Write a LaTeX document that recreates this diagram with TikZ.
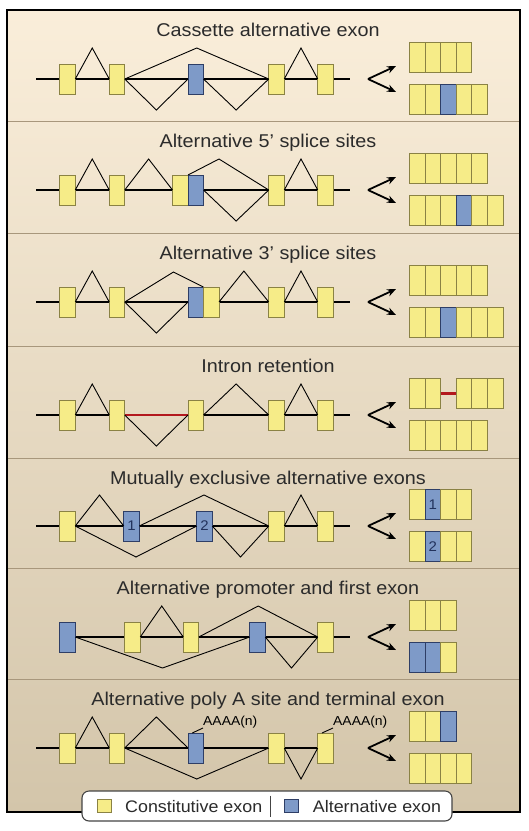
\documentclass[tikz,border=0pt]{standalone}
\usepackage{fontspec}
\setmainfont{Liberation Sans}[FakeStretch=1.07]
\usetikzlibrary{arrows.meta,calc}
\definecolor{exY}{HTML}{F6EC88}
\definecolor{lnY}{HTML}{8A8244}
\definecolor{exB}{HTML}{7E9AC8}
\definecolor{lnB}{HTML}{2E3E66}
\definecolor{bgTop}{HTML}{FAEEDA}
\definecolor{bgBot}{HTML}{D3C5AA}
\definecolor{sepc}{HTML}{A8977C}
\definecolor{txt}{HTML}{2B2B2B}
\definecolor{intr}{HTML}{B3181E}
\definecolor{numc}{HTML}{22325C}
\definecolor{legc}{HTML}{444444}
\newcommand\jn[3]{\draw[spl] (#1) -- ($(#1)!.5!(#2)+(0,#3)$) -- (#2);}
\newcommand\mrow[4]{\foreach \k [count=\i] in {#4} {\node[mbox, fill=ex\k, draw=ln\k] (#1\i) at ({#2+(\i-1)*15.6},#3) {};}}
\newcommand\fork[3]{%
  \coordinate (#1v) at (#2,#3);
  \coordinate (#1t) at (#2+28,#3-13);
  \coordinate (#1u) at (#2+28,#3+13);
  \draw[arr] (#1v) -- (#1t);
  \draw[arr] (#1v) -- (#1u);}
\begin{document}
\begin{tikzpicture}[x=1pt,y=-1pt,
  exon/.style={draw=lnY, fill=exY, line width=0.9pt, minimum width=15.5pt, minimum height=30pt, inner sep=0pt, outer sep=0pt},
  aexon/.style={exon, draw=lnB, fill=exB},
  mbox/.style={line width=0.9pt, minimum width=15.6pt, minimum height=30pt, inner sep=0pt, outer sep=0pt, anchor=north west},
  spl/.style={line width=0.9pt, draw=black},
  bb/.style={line width=1.8pt, draw=black},
  arr/.style={line width=1.8pt, -{Stealth[length=9pt,width=7.5pt]}},
  ttl/.style={anchor=base, font=\fontsize{18.5}{20}\selectfont, text=txt, inner sep=0pt},
  num/.style={font=\fontsize{14}{14}\selectfont, text=numc, inner sep=0pt},
  aaaa/.style={font=\fontsize{13}{13}\selectfont, text=black, inner sep=0pt, anchor=south west},
  ltx/.style={font=\fontsize{16.7}{18}\selectfont, text=txt, inner sep=0pt, anchor=base west},
  lsq/.style={line width=0.9pt, minimum width=14pt, minimum height=13.5pt, inner sep=0pt}
]
\useasboundingbox (0,0) rectangle (529,831);
\fill[top color=bgTop, bottom color=bgBot] (7,10) rectangle (520,812);
\foreach \yy in {121,233,346,458,568,679} \draw[sepc, line width=1pt] (7,\yy) -- (520,\yy);
\draw[line width=2.2pt] (7,10) rectangle (520,812);

% titles
\node[ttl] (t1) at (268,36) {Cassette alternative exon};
\node[ttl] (t2) at (268,147) {Alternative 5’ splice sites};
\node[ttl] (t3) at (268,259) {Alternative 3’ splice sites};
\node[ttl] (t4) at (268,372) {Intron retention};
\node[ttl] (t5) at (268,484) {Mutually exclusive alternative exons};
\node[ttl] (t6) at (268,594) {Alternative promoter and first exon};
\node[ttl] (t7) at (268,705) {Alternative poly A site and terminal exon};

% ---------- panel 1
\coordinate (p1s) at (36,79); \coordinate (p1f) at (350,79);
\draw[bb] (p1s) -- (p1f);
\node[exon] (p1e1) at (67.5,79) {};
\node[exon] (p1e2) at (117,79) {};
\node[aexon] (p1x) at (195.75,79) {};
\node[exon] (p1e3) at (276.5,79) {};
\node[exon] (p1e4) at (325.5,79) {};
\jn{p1e1.east}{p1e2.west}{-31}
\jn{p1e2.east}{p1e3.west}{-31}
\jn{p1e2.east}{p1x.west}{31}
\jn{p1x.east}{p1e3.west}{31}
\jn{p1e3.east}{p1e4.west}{-31}
\fork{p1}{368}{79}
\mrow{p1a}{409.5}{42.5}{Y,Y,Y,Y}
\mrow{p1b}{409.5}{84.5}{Y,Y,B,Y,Y}

% ---------- panel 2
\coordinate (p2s) at (36,190); \coordinate (p2f) at (350,190);
\draw[bb] (p2s) -- (p2f);
\node[exon] (p2e1) at (67.5,190) {};
\node[exon] (p2e2) at (117,190) {};
\node[exon] (p2y) at (180.25,190) {};
\node[aexon] (p2x) at (195.75,190) {};
\node[exon] (p2e3) at (276.5,190) {};
\node[exon] (p2e4) at (325.5,190) {};
\coordinate (p2k) at (219,159);
\jn{p2e1.east}{p2e2.west}{-31}
\jn{p2e2.east}{p2y.west}{-31}
\draw[spl] (p2x.north west) -- (p2k) -- (p2e3.west);
\jn{p2x.east}{p2e3.west}{31}
\jn{p2e3.east}{p2e4.west}{-31}
\fork{p2}{368}{190}
\mrow{p2a}{409.5}{153.5}{Y,Y,Y,Y,Y}
\mrow{p2b}{409.5}{195.5}{Y,Y,Y,B,Y,Y}

% ---------- panel 3
\coordinate (p3s) at (36,302); \coordinate (p3f) at (350,302);
\draw[bb] (p3s) -- (p3f);
\node[exon] (p3e1) at (67.5,302) {};
\node[exon] (p3e2) at (117,302) {};
\node[aexon] (p3x) at (195.75,302) {};
\node[exon] (p3y) at (211.25,302) {};
\node[exon] (p3e3) at (276.5,302) {};
\node[exon] (p3e4) at (325.5,302) {};
\coordinate (p3k) at (173.5,272);
\jn{p3e1.east}{p3e2.west}{-31}
\draw[spl] (p3e2.east) -- (p3k) -- (p3x.north east);
\jn{p3e2.east}{p3x.west}{31}
\jn{p3y.east}{p3e3.west}{-31}
\jn{p3e3.east}{p3e4.west}{-31}
\fork{p3}{368}{302}
\mrow{p3a}{409.5}{265.5}{Y,Y,Y,Y,Y}
\mrow{p3b}{409.5}{307.5}{Y,Y,B,Y,Y,Y}

% ---------- panel 4
\coordinate (p4s) at (36,415); \coordinate (p4f) at (350,415);
\draw[bb] (p4s) -- (p4f);
\node[exon] (p4e1) at (67.5,415) {};
\node[exon] (p4e2) at (117,415) {};
\node[exon] (p4e3) at (195.75,415) {};
\node[exon] (p4e4) at (276.5,415) {};
\node[exon] (p4e5) at (325.5,415) {};
\draw[line width=2.8pt, intr] (p4e2.east) -- (p4e3.west);
\jn{p4e1.east}{p4e2.west}{-31}
\jn{p4e2.east}{p4e3.west}{31}
\jn{p4e3.east}{p4e4.west}{-31}
\jn{p4e4.east}{p4e5.west}{-31}
\fork{p4}{368}{415}
\mrow{p4a}{409.5}{378.5}{Y,Y}
\mrow{p4c}{456.3}{378.5}{Y,Y,Y}
\draw[line width=2.8pt, intr] (p4a2.east) -- (p4c1.west);
\mrow{p4b}{409.5}{420.5}{Y,Y,Y,Y,Y}

% ---------- panel 5
\coordinate (p5s) at (36,526); \coordinate (p5f) at (350,526);
\draw[bb] (p5s) -- (p5f);
\node[exon] (p5e1) at (67.5,526) {};
\node[aexon] (p5x1) at (131.5,526) {};
\node[aexon] (p5x2) at (204.5,526) {};
\node[exon] (p5e3) at (276.5,526) {};
\node[exon] (p5e4) at (325.5,526) {};
\node[num] (p5n1) at (p5x1) {1};
\node[num] (p5n2) at (p5x2) {2};
\jn{p5e1.east}{p5x1.west}{-31}
\jn{p5x1.east}{p5e3.west}{-31}
\jn{p5e1.east}{p5x2.west}{31}
\jn{p5x2.east}{p5e3.west}{31}
\jn{p5e3.east}{p5e4.west}{-31}
\fork{p5}{368}{526}
\mrow{p5a}{409.5}{489.5}{Y,B,Y,Y}
\mrow{p5b}{409.5}{531.5}{Y,B,Y,Y}
\node[num] (p5m1) at (p5a2) {1};
\node[num] (p5m2) at (p5b2) {2};

% ---------- panel 6
\coordinate (p6s) at (67.5,637); \coordinate (p6f) at (350,637);
\draw[bb] (p6s) -- (p6f);
\node[aexon] (p6a) at (67.5,637) {};
\node[exon] (p6e1) at (132.5,637) {};
\node[exon] (p6e2) at (191,637) {};
\node[aexon] (p6b) at (257.5,637) {};
\node[exon] (p6e3) at (325.5,637) {};
\jn{p6e1.east}{p6e2.west}{-31}
\jn{p6e2.east}{p6e3.west}{-31}
\jn{p6a.east}{p6b.west}{31}
\jn{p6b.east}{p6e3.west}{31}
\fork{p6}{368}{637}
\mrow{p6a}{409.5}{600.5}{Y,Y,Y}
\mrow{p6c}{409.5}{642.5}{B,B,Y}

% ---------- panel 7
\coordinate (p7s) at (36,748); \coordinate (p7f) at (320,748);
\draw[bb] (p7s) -- (p7f);
\node[exon] (p7e1) at (67.5,748) {};
\node[exon] (p7e2) at (117,748) {};
\node[aexon] (p7x) at (195.75,748) {};
\node[exon] (p7e3) at (276.5,748) {};
\node[exon] (p7e4) at (325.5,748) {};
\jn{p7e1.east}{p7e2.west}{-31}
\jn{p7e2.east}{p7x.west}{-31}
\jn{p7e2.east}{p7e3.west}{31}
\jn{p7e3.east}{p7e4.west}{31}
\node[aaaa] (p7t1) at (203,728) {AAAA(n)};
\node[aaaa] (p7t2) at (333,728) {AAAA(n)};
\draw[line width=0.9pt] ($(p7x.north)+(-3.5,0)$) -- (p7t1.south west);
\draw[line width=0.9pt] ($(p7e4.north)+(-3.5,0)$) -- (p7t2.south west);
\fork{p7}{368}{748}
\mrow{p7a}{409.5}{711.5}{Y,Y,B}
\mrow{p7b}{409.5}{753.5}{Y,Y,Y,Y}

% ---------- legend
\node[draw=legc, fill=white, rounded corners=7pt, line width=1.1pt, minimum width=370pt, minimum height=30pt, inner sep=0pt] (leg) at (267,806) {};
\node[lsq, fill=exY, draw=lnY] (lq1) at (104.5,805.7) {};
\node[ltx] (lt1) at (125,812) {Constitutive exon};
\coordinate (ls1) at (270.5,795.5); \coordinate (ls2) at (270.5,816.5);
\draw[legc, line width=1pt] (ls1) -- (ls2);
\node[lsq, fill=exB, draw=lnB] (lq2) at (291,805.7) {};
\node[ltx] (lt2) at (312.7,812) {Alternative exon};
\end{tikzpicture}
\end{document}
